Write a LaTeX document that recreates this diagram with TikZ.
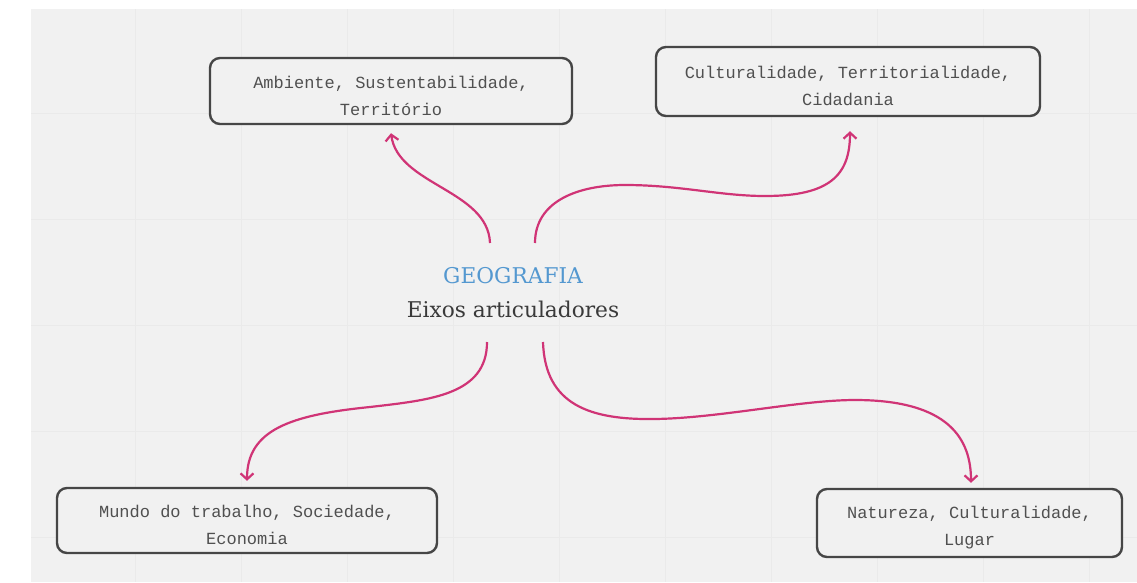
\documentclass[tikz,border=0pt]{standalone}
\usepackage{fontspec}
\usepackage{xcolor}
\usetikzlibrary{arrows.meta,positioning,calc}
\newfontfamily\boxfont{Liberation Mono}
\newfontfamily\titlefont{DejaVu Serif}
\definecolor{bggray}{RGB}{241,241,241}
\definecolor{gridgray}{RGB}{234,234,234}
\definecolor{boxline}{RGB}{70,70,70}
\definecolor{boxtext}{RGB}{80,80,80}
\definecolor{geoblue}{RGB}{84,152,208}
\definecolor{eixtext}{RGB}{58,58,58}
\definecolor{pinkar}{RGB}{208,52,118}
\newcommand{\monospc}{\spaceskip=10.2pt\xspaceskip=10.2pt}

\begin{document}
\begin{tikzpicture}[
x=1pt,y=-1pt,
rnd/.style={
  draw=boxline,
  fill=bggray,
  rounded corners=10pt,
  line width=2.4pt,
  align=center,
  inner xsep=0pt,
  text=boxtext,
  execute at begin node={\monospc\rule{0pt}{22pt}},
  font=\boxfont\fontsize{17}{27}\selectfont
  },
ttl/.style={
  anchor=base,
  inner sep=0pt,
  font=\titlefont\fontsize{21.7}{26}\selectfont
  },
ar/.style={
  draw=pinkar,
  line width=2.2pt,
  -{Straight Barb[length=6pt,width=13pt,line width=2.2pt]}
  },
gridln/.style={
  draw=gridgray,
  line width=1pt
  }
]

%Background and grid
\useasboundingbox (0,0) rectangle (1137,582);
\fill[white] (0,0) rectangle (1137,582);
\fill[bggray] (31,9) rectangle (1137,582);
\foreach \x in {135,241,...,1100}
  \draw[gridln] (\x,9) -- (\x,582);
\foreach \y in {113,219,...,560}
  \draw[gridln] (31,\y) -- (1137,\y);

%The nodes for the boxes
\node[rnd, text width=362pt, minimum height=66pt] (amb) at (391,91)
  {Ambiente, Sustentabilidade,\\Território};
\node[rnd, text width=384pt, minimum height=69pt] (cult) at (848,81.5)
  {Culturalidade, Territorialidade,\\Cidadania};
\node[rnd, text width=380pt, minimum height=65pt] (mundo) at (247,520.5)
  {Mundo do trabalho, Sociedade,\\Economia};
\node[rnd, text width=305pt, minimum height=68pt] (nat) at (969.5,523)
  {Natureza, Culturalidade,\\Lugar};

%The title
\node[ttl, text=geoblue] (geo) at (513,283)
  {GEOGRAFIA};
\node[ttl, text=eixtext] (eixos) at ([yshift=-34pt]geo.base)
  {Eixos articuladores};

%Aux
\coordinate (g1) at (490,243);
\coordinate (g2) at (535,243);
\coordinate (g3) at (487,342);
\coordinate (g4) at (543,342);

\draw[ar] (g1) .. controls (488,190) and (398,185) .. ([yshift=-8pt]amb.south);
\draw[ar] (g2) .. controls (535,200) and (580,185) .. (625,185)
  .. controls (680,185) and (720,196) .. (765,196)
  .. controls (830,196) and (850,175) .. ([xshift=2pt,yshift=-14pt]cult.south);
\draw[ar] (g3) .. controls (487,395) and (430,400) .. (370,407)
  .. controls (290,415) and (247,430) .. ([yshift=6pt]mundo.north);
\draw[ar] (g4) .. controls (545,405) and (590,420) .. (655,419)
  .. controls (720,418) and (800,400) .. (855,400)
  .. controls (950,400) and (971,440) .. ([xshift=1.5pt,yshift=5pt]nat.north);

\end{tikzpicture}
\end{document}
